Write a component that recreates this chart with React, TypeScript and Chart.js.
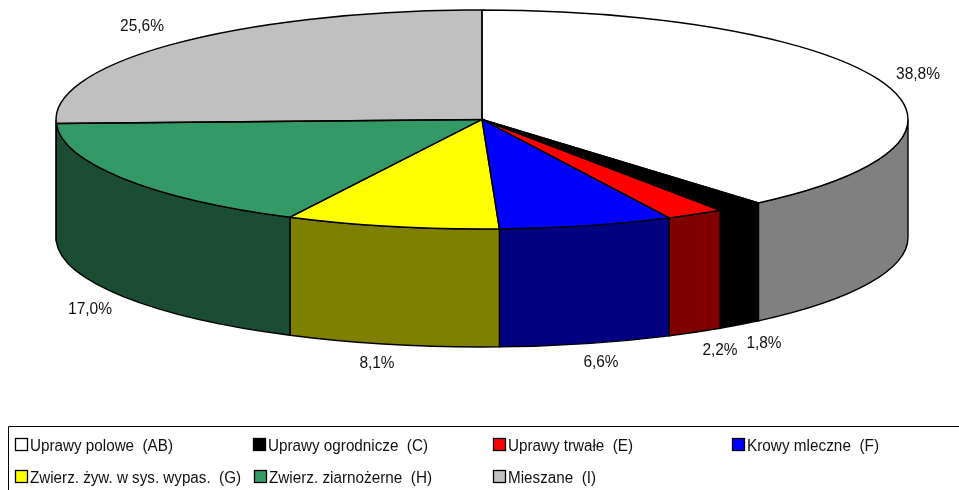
import React, { useEffect, useRef } from "react";
import { Chart, registerables } from "chart.js";

Chart.register(...registerables);

const categories = [
  "Uprawy polowe  (AB)",
  "Uprawy ogrodnicze  (C)",
  "Uprawy trwałe  (E)",
  "Krowy mleczne  (F)",
  "Zwierz. żyw. w sys. wypas.  (G)",
  "Zwierz. ziarnożerne  (H)",
  "Mieszane  (I)",
];
const shares = [38.8, 1.8, 2.2, 6.6, 8.1, 17.0, 25.6];
const shareLabels = ["38,8%", "1,8%", "2,2%", "6,6%", "8,1%", "17,0%", "25,6%"];
const topColors = ["#FFFFFF", "#000000", "#FF0000", "#0000FF", "#FFFF00", "#339966", "#C0C0C0"];
const wallColors = ["#808080", "#000000", "#800000", "#000080", "#808000", "#1A4D33", "#606060"];

const CX = 482, CY = 119.5, RX = 426, RY = 109.5, DEPTH = 118;
const FONT = '16px "Liberation Sans", Arial, sans-serif';
const labelCentres: [number, number][] = [[918, 75], [764, 344], [720, 351], [601, 363], [377, 364], [90, 310], [142, 27]];
const legendCells: [number, number, number][] = [
  [15, 451, 143], [253, 451, 160], [493, 451, 125], [732, 451, 132],
  [15, 483, 211], [254, 483, 163], [493, 483, 88],
];

const pie3d = {
  id: "pie3d",
  beforeDatasetsDraw(chart: any) {
    const ctx = chart.ctx;
    const arcs = chart.getDatasetMeta(0).data;
    ctx.save();
    ctx.strokeStyle = "#000";
    ctx.lineWidth = 1.4;
    arcs.forEach((arc: any, i: number) => {
      let a0 = arc.startAngle, a1 = arc.endAngle;
      // only the part of each slice on the near half of the ellipse has a wall
      a0 = Math.max(a0, 0);
      a1 = Math.min(a1, Math.PI);
      if (a1 <= a0) return;
      ctx.beginPath();
      ctx.ellipse(CX, CY, RX, RY, 0, a0, a1, false);
      ctx.lineTo(CX + RX * Math.cos(a1), CY + RY * Math.sin(a1) + DEPTH);
      ctx.ellipse(CX, CY + DEPTH, RX, RY, 0, a1, a0, true);
      ctx.closePath();
      ctx.fillStyle = wallColors[i];
      ctx.fill();
      ctx.stroke();
    });
    ctx.restore();
    // the library's pie is squashed into the top face of the drum
    const first = arcs[0];
    ctx.save();
    ctx.translate(CX, CY);
    ctx.scale(RX / first.outerRadius, RY / first.outerRadius);
    ctx.translate(-first.x, -first.y);
  },
  afterDatasetsDraw(chart: any) {
    const ctx = chart.ctx;
    ctx.restore();
    const arcs = chart.getDatasetMeta(0).data;
    ctx.save();
    ctx.strokeStyle = "#000";
    ctx.lineWidth = 1.4;
    arcs.forEach((arc: any) => {
      ctx.beginPath();
      ctx.moveTo(CX, CY);
      ctx.ellipse(CX, CY, RX, RY, 0, arc.startAngle, arc.endAngle, false);
      ctx.closePath();
      ctx.stroke();
    });
    ctx.font = FONT;
    ctx.fillStyle = "#111";
    ctx.textAlign = "center";
    ctx.textBaseline = "middle";
    shareLabels.forEach((t, i) => {
      const [x, y] = labelCentres[i];
      ctx.fillText(t, x, y, t.length * 8.8);
    });
    // legend frame
    ctx.lineWidth = 1;
    ctx.strokeStyle = "#000";
    ctx.beginPath();
    ctx.moveTo(8.5, 492);
    ctx.lineTo(8.5, 426.5);
    ctx.lineTo(960, 426.5);
    ctx.stroke();
    ctx.textAlign = "left";
    ctx.textBaseline = "alphabetic";
    ctx.lineWidth = 1.3;
    categories.forEach((t, i) => {
      const [x, y, w] = legendCells[i];
      ctx.fillStyle = topColors[i];
      ctx.fillRect(x + 0.5, y - 12.5, 12, 12);
      ctx.strokeRect(x + 0.5, y - 12.5, 12, 12);
      ctx.fillStyle = "#111";
      ctx.fillText(t, x + 15, y, w);
    });
    ctx.restore();
  },
};

export default function App() {
  const ref = useRef<HTMLCanvasElement>(null);
  useEffect(() => {
    const chart = new Chart(ref.current!, {
      type: "pie",
      data: {
        labels: categories,
        datasets: [{ data: shares, backgroundColor: topColors, borderWidth: 0 }],
      },
      options: {
        animation: false,
        responsive: false,
        plugins: { legend: { display: false }, tooltip: { enabled: false } },
      },
      plugins: [pie3d],
    } as any);
    return () => chart.destroy();
  }, []);
  return (
    <canvas
      ref={ref}
      width={959}
      height={490}
      style={{ position: "fixed", left: 0, top: 0, background: "#fff" }}
    />
  );
}
